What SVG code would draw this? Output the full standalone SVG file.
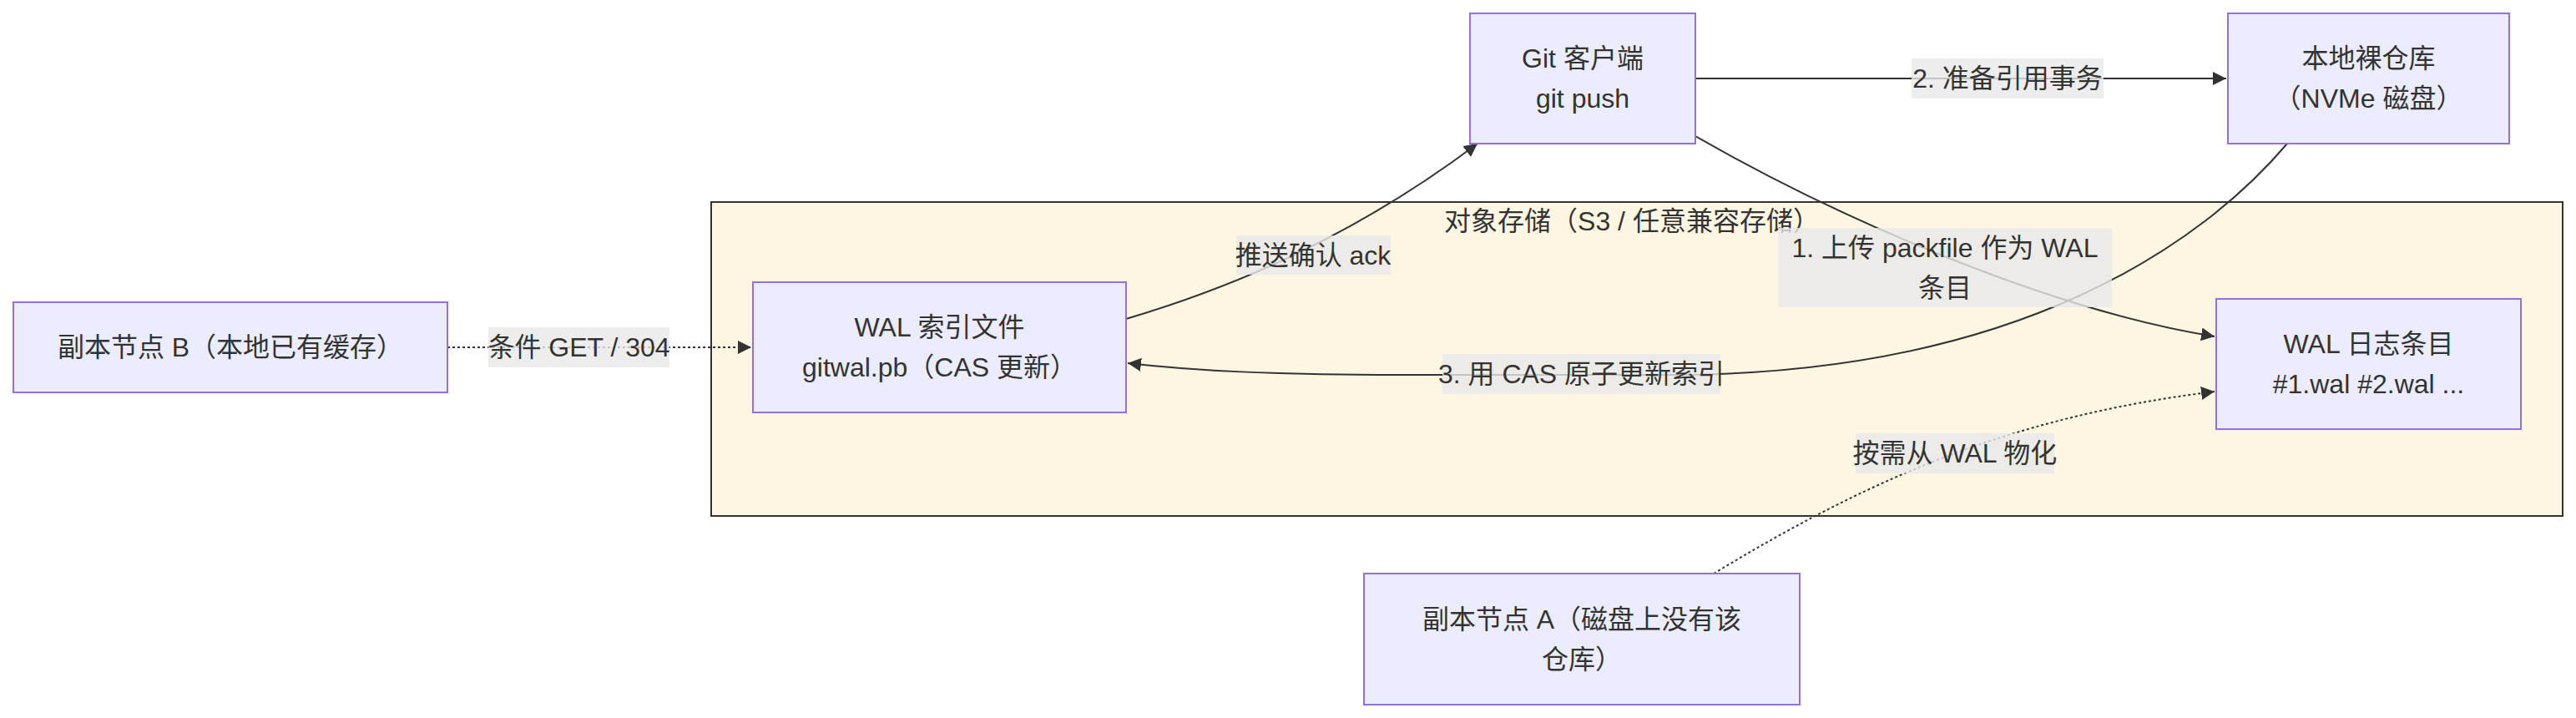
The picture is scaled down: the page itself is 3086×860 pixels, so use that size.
<svg xmlns="http://www.w3.org/2000/svg" width="3086" height="860" viewBox="0 0 3086 860">
<defs>
<marker id="arrow" viewBox="0 0 10 10" refX="10" refY="5" markerUnits="userSpaceOnUse" markerWidth="16" markerHeight="16" orient="auto">
<path d="M0,0 L10,5 L0,10 z" fill="#333333"/>
</marker>
<style>
text{font-family:"Liberation Sans","Noto Sans CJK SC",sans-serif;font-size:32px;fill:#333333;text-anchor:middle;dominant-baseline:central}
.node rect{fill:#ECECFF;stroke:#9370DB;stroke-width:2}
.edge{fill:none;stroke:#333333;stroke-width:2}
.dotted{stroke-dasharray:3 3}
.lbl rect{fill:#e8e8e8;fill-opacity:0.8}
</style>
</defs>
<rect width="3086" height="860" fill="#ffffff"/>
<g id="cluster-object-storage">
<rect x="852" y="242" width="2218" height="376" fill="#FDF6E3" stroke="#333333" stroke-width="2"/>
<text x="1955" y="265">对象存储（S3 / 任意兼容存储）</text>
</g>
<g id="connectors">
<path class="edge" d="M2031,163 C2200,260 2450,370 2653,403" marker-end="url(#arrow)"/>
<path class="edge" d="M2031,94 L2667,94" marker-end="url(#arrow)"/>
<path class="edge" d="M2740,172 C2640,290 2420,449 2000,449 L1700,449 C1520,449 1430,444 1351,435" marker-end="url(#arrow)"/>
<path class="edge" d="M1349,382 C1440,355 1600,300 1770,172" marker-end="url(#arrow)"/>
<path class="edge dotted" d="M536,416 L900,416" marker-end="url(#arrow)"/>
<path class="edge dotted" d="M2053,687 C2230,580 2400,500 2653,469" marker-end="url(#arrow)"/>
<g class="lbl">
<rect x="1481" y="282" width="185" height="47"/>
<text x="1573" y="306">推送确认 ack</text>
<rect x="585" y="392" width="217" height="48"/>
<text x="693.5" y="416">条件 GET / 304</text>
<rect x="2290" y="70" width="230" height="48"/>
<text x="2405" y="94">2. 准备引用事务</text>
<rect x="1728" y="424" width="333" height="48"/>
<text x="1894.5" y="448">3. 用 CAS 原子更新索引</text>
<rect x="2130" y="273" width="400" height="95"/>
<text x="2330" y="297">1. 上传 packfile 作为 WAL</text>
<text x="2330" y="345">条目</text>
<rect x="2223" y="519" width="238" height="48"/>
<text x="2342" y="543">按需从 WAL 物化</text>
</g>
</g>
<g id="git-client" class="node">
<rect x="1761" y="16" width="270" height="156"/>
<text x="1896" y="70">Git 客户端</text>
<text x="1896" y="118">git push</text>
</g>
<g id="bare-repo" class="node">
<rect x="2669" y="16" width="337" height="156"/>
<text x="2837.5" y="70">本地裸仓库</text>
<text x="2837.5" y="118">（NVMe 磁盘）</text>
</g>
<g id="replica-b" class="node">
<rect x="16" y="362" width="520" height="108"/>
<text x="276" y="416">副本节点 B（本地已有缓存）</text>
</g>
<g id="wal-index" class="node">
<rect x="902" y="338" width="447" height="156"/>
<text x="1125.5" y="392">WAL 索引文件</text>
<text x="1125.5" y="440">gitwal.pb（CAS 更新）</text>
</g>
<g id="wal-log" class="node">
<rect x="2655" y="358" width="365" height="156"/>
<text x="2837.5" y="412">WAL 日志条目</text>
<text x="2837.5" y="460">#1.wal #2.wal ...</text>
</g>
<g id="replica-a" class="node">
<rect x="1634" y="687" width="522" height="157"/>
<text x="1895" y="742">副本节点 A（磁盘上没有该</text>
<text x="1895" y="790">仓库）</text>
</g>
</svg>
